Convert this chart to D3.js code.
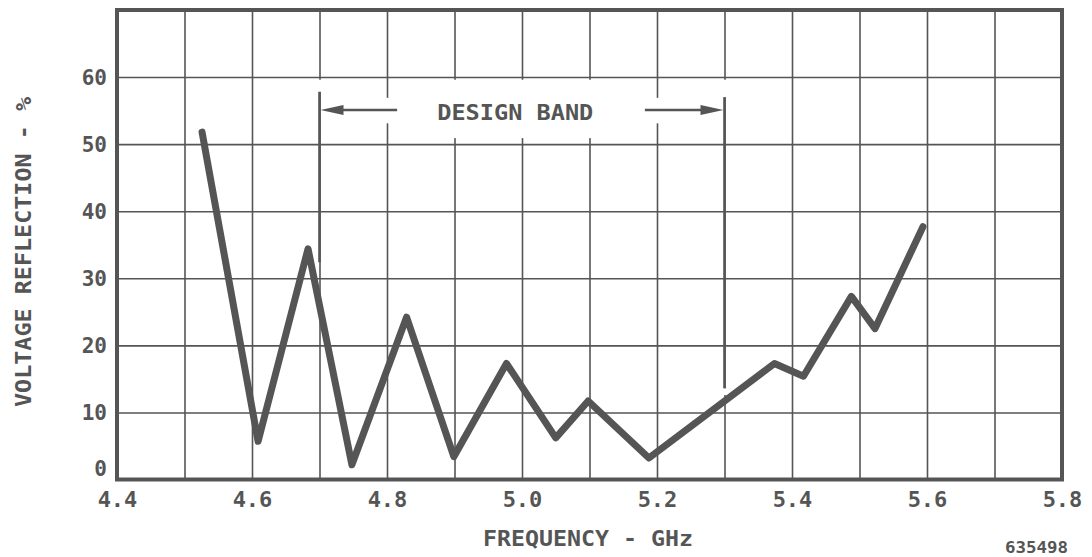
<!DOCTYPE html>
<html>
<head>
<meta charset="UTF-8">
<title>Voltage reflection vs frequency</title>
<script src="https://cdn.jsdelivr.net/npm/d3@7"></script>
<style>
    body { margin: 0; background: #fff; }
    svg { display: block; }
    .lbl { font-family: "DejaVu Sans Mono", monospace; font-weight: bold; fill: #555; }
</style>
</head>
<body>
<script>
    let freq = [4.526, 4.609, 4.683, 4.748, 4.829, 4.899, 4.977, 5.050, 5.098, 5.188, 5.374, 5.417, 5.488, 5.523, 5.594];
    let refl = [51.8, 5.7, 34.4, 2.2, 24.2, 3.4, 17.3, 6.2, 11.7, 3.2, 17.3, 15.4, 27.3, 22.5, 37.7];

    let xTicks = [4.4, 4.6, 4.8, 5.0, 5.2, 5.4, 5.6, 5.8];
    let xGrid = [4.5, 4.6, 4.7, 4.8, 4.9, 5.0, 5.1, 5.2, 5.3, 5.4, 5.5, 5.6, 5.7];
    let yTicks = [0, 10, 20, 30, 40, 50, 60];
    let yGrid = [10, 20, 30, 40, 50, 60];

    let band = [4.7, 5.3]; // Design-Band in GHz

    let W = 1092, H = 557;
    let margin = {top: 10, right: 30, bottom: 77.5, left: 117},
        w = W - margin.left - margin.right,
        h = H - margin.top - margin.bottom;

    let x = d3.scaleLinear().domain([4.4, 5.8]).range([0, w]);
    let y = d3.scaleLinear().domain([0, 70]).range([h, 0]);

    let svg = d3.select("body").append("svg")
        .attr("width", W)
        .attr("height", H);

    let g = svg.append("g")
        .attr("transform", "translate(" + margin.left + "," + margin.top + ")");

    // Gitterlinien
    g.append("g")
        .attr("transform", "translate(0," + h + ")")
        .call(d3.axisBottom(x).tickValues(xGrid).tickSize(-h).tickFormat(""))
        .call(s => s.select(".domain").remove())
        .selectAll("line").attr("stroke", "#555").attr("stroke-width", 1.6);

    g.append("g")
        .call(d3.axisLeft(y).tickValues(yGrid).tickSize(-w).tickFormat(""))
        .call(s => s.select(".domain").remove())
        .selectAll("line").attr("stroke", "#555").attr("stroke-width", 1.6);

    // weisse Flaechen hinter der Beschriftung
    let white = "#fff";
    g.append("rect") // Text
        .attr("x", x(4.812)).attr("width", x(5.175) - x(4.812))
        .attr("y", y(59.6)).attr("height", y(50.9) - y(59.6))
        .attr("fill", white);
    g.append("rect") // Pfeile
        .attr("x", x(band[0]) + 2).attr("width", x(band[1]) - x(band[0]) - 4)
        .attr("y", y(56.9)).attr("height", y(53.1) - y(56.9))
        .attr("fill", white);
    g.append("rect")
        .attr("x", x(band[0]) - 3).attr("width", 6)
        .attr("y", y(59.6)).attr("height", y(57.8) - y(59.6))
        .attr("fill", white);
    g.append("rect")
        .attr("x", x(band[1]) - 3).attr("width", 6)
        .attr("y", y(59.6)).attr("height", y(57.0) - y(59.6))
        .attr("fill", white);
    g.append("rect")
        .attr("x", x(band[1]) - 3).attr("width", 6)
        .attr("y", y(13.6)).attr("height", y(12.6) - y(13.6))
        .attr("fill", white);

    // Design-Band Markierungen
    let dark = "#555";
    g.append("line")
        .attr("x1", x(band[0])).attr("x2", x(band[0]))
        .attr("y1", y(57.8)).attr("y2", y(32.4))
        .attr("stroke", dark).attr("stroke-width", 2.6);
    g.append("line")
        .attr("x1", x(band[1])).attr("x2", x(band[1]))
        .attr("y1", y(57.0)).attr("y2", y(13.6))
        .attr("stroke", dark).attr("stroke-width", 2.6);

    let arrowY = y(55.1);
    g.append("line")
        .attr("x1", x(band[0]) + 18).attr("x2", x(4.815))
        .attr("y1", arrowY).attr("y2", arrowY)
        .attr("stroke", dark).attr("stroke-width", 2.4);
    g.append("path")
        .attr("d", "M" + (x(band[0]) + 1) + "," + arrowY + "L" + (x(band[0]) + 24) + "," + (arrowY - 5) +
            "L" + (x(band[0]) + 24) + "," + (arrowY + 5) + "Z")
        .attr("fill", dark);
    g.append("line")
        .attr("x1", x(5.182)).attr("x2", x(band[1]) - 18)
        .attr("y1", arrowY).attr("y2", arrowY)
        .attr("stroke", dark).attr("stroke-width", 2.4);
    g.append("path")
        .attr("d", "M" + (x(band[1]) - 1) + "," + arrowY + "L" + (x(band[1]) - 24) + "," + (arrowY - 5) +
            "L" + (x(band[1]) - 24) + "," + (arrowY + 5) + "Z")
        .attr("fill", dark);

    g.append("text")
        .attr("class", "lbl")
        .attr("x", x(4.99))
        .attr("y", y(53.6))
        .attr("text-anchor", "middle")
        .attr("font-size", "22px")
        .attr("textLength", 156)
        .attr("lengthAdjust", "spacingAndGlyphs")
        .text("DESIGN BAND");

    // Rahmen
    g.append("rect")
        .attr("width", w).attr("height", h)
        .attr("fill", "none")
        .attr("stroke", dark)
        .attr("stroke-width", 4);

    // Kurve
    let pts = freq.map((f, i) => [f, refl[i]]);
    g.append("path")
        .datum(pts)
        .attr("d", d3.line().x(d => x(d[0])).y(d => y(d[1])))
        .attr("fill", "none")
        .attr("stroke", "#555")
        .attr("stroke-width", 7)
        .attr("stroke-linejoin", "round")
        .attr("stroke-linecap", "round");

    // Achsenbeschriftungen
    let ax = g.append("g")
        .attr("transform", "translate(0," + h + ")")
        .call(d3.axisBottom(x).tickValues(xTicks).tickSize(0).tickPadding(12).tickFormat(d3.format(".1f")));
    ax.select(".domain").remove();
    ax.selectAll("text").attr("class", "lbl").attr("font-size", "22px");

    let ay = g.append("g")
        .call(d3.axisLeft(y).tickValues(yTicks).tickSize(0).tickPadding(10));
    ay.select(".domain").remove();
    ay.selectAll("text").attr("class", "lbl").attr("font-size", "21px")
        .attr("dy", d => d === 0 ? "-0.18em" : "0.36em"); // "0" sitzt etwas ueber der Achse

    svg.append("text")
        .attr("class", "lbl")
        .attr("x", 588)
        .attr("y", 546)
        .attr("text-anchor", "middle")
        .attr("font-size", "22px")
        .attr("textLength", 210)
        .attr("lengthAdjust", "spacingAndGlyphs")
        .text("FREQUENCY - GHz");

    svg.append("text")
        .attr("class", "lbl")
        .attr("transform", "translate(31,252) rotate(-90)")
        .attr("text-anchor", "middle")
        .attr("font-size", "22px")
        .attr("textLength", 310)
        .attr("lengthAdjust", "spacingAndGlyphs")
        .text("VOLTAGE REFLECTION - %");

    svg.append("text")
        .attr("class", "lbl")
        .attr("x", 1068)
        .attr("y", 553)
        .attr("text-anchor", "end")
        .attr("font-size", "16px")
        .attr("textLength", 63)
        .attr("lengthAdjust", "spacingAndGlyphs")
        .text("635498");
</script>
</body>
</html>
